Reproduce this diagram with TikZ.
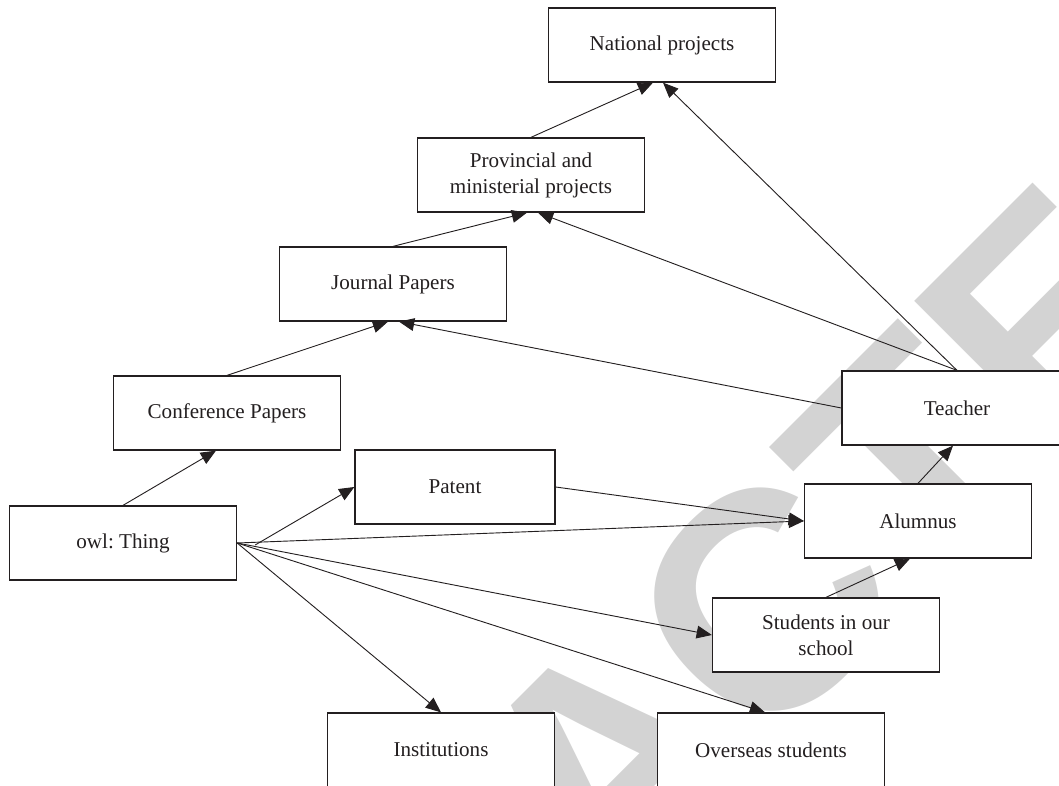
\documentclass[tikz,border=0pt]{standalone}
\usepackage{fontspec}
\setmainfont{Liberation Serif}
\newfontfamily\wmfont{Liberation Sans}
\usetikzlibrary{arrows.meta,calc}
\frenchspacing

\definecolor{inkline}{HTML}{231F20}
\definecolor{wmgray}{HTML}{D3D3D3}

\begin{document}
\begin{tikzpicture}[x=0.025cm, y=-0.025cm,
		>={Triangle[length=0.38cm, width=0.32cm]},
		class/.style={draw=inkline, line width=0.9pt, fill=white, text=inkline,
			minimum width=5.675cm, minimum height=1.85cm, align=center,
			font=\fontsize{15}{18.5}\selectfont},
		link/.style={->, inkline, line width=0.65pt},
		wmark/.style={text=wmgray, rotate=45, inner sep=0pt,
			font=\wmfont\bfseries\fontsize{220}{220}\selectfont}]

		% 1. Page frame (one unit = one pixel, y grows downwards)
		\useasboundingbox (0,0) rectangle (1059,786);
		\clip (0,0) rectangle (1059,786);

		% 2. Watermark behind everything
		\node[wmark] (wm) at (605,762) {RETRACTED};

		% 3. Ontology classes
		\node[class] (natl) at (662,45) {National projects};
		\node[class] (prov) at (531,175) {Provincial and\\ministerial projects};
		\node[class] (jour) at (393,284) {Journal Papers};
		\node[class] (conf) at (227,413) {Conference Papers};
		\node[class, minimum width=5cm] (patent) at (455,487) {Patent};
		\node[class] (owl) at (123,543) {owl: Thing};
		\node[class, minimum width=5.75cm] (teacher) at (957,408) {Teacher};
		\node[class] (alum) at (918,521) {Alumnus};
		\node[class] (stud) at (826,635) {Students in our\\school};
		\node[class] (inst) at (441,750) {Institutions};
		\node[class] (over) at (771,750) {Overseas students};

		% fork point just right of owl: Thing
		\coordinate (fork) at ($(owl.east)+(18,2)$);

		% 4. Subclass links, paper and project chain
		\draw[link] (prov.north) -- ($(natl.south)+(-9,0)$);
		\draw[link] (jour.north) -- ($(prov.south)+(-4,0)$);
		\draw[link] (conf.north) -- ($(jour.south)+(-5,0)$);
		\draw[link] (owl.north) -- ($(conf.south)+(-11,0)$);

		% 5. Links out of Teacher
		\draw[link] (teacher.north) -- ($(natl.south)+(1,0)$);
		\draw[link] (teacher.north) -- ($(prov.south)+(7,0)$);
		\draw[link] (teacher.west) -- ($(jour.south)+(6,0)$);

		% 6. Links out of owl: Thing
		\draw[link] (fork) -- (patent.west);
		\draw[link] (owl.east) -- (alum.west);
		\draw[link] (owl.east) -- (stud.west);
		\draw[link] (owl.east) -- (inst.north);
		\draw[link] (owl.east) -- ($(over.north)+(-6,0)$);

		% 7. Student / alumnus chain
		\draw[link] (patent.east) -- (alum.west);
		\draw[link] (stud.north) -- ($(alum.south)+(-8,0)$);
		\draw[link] (alum.north) -- ($(teacher.south)+(-4,0)$);
	\end{tikzpicture}
\end{document}
